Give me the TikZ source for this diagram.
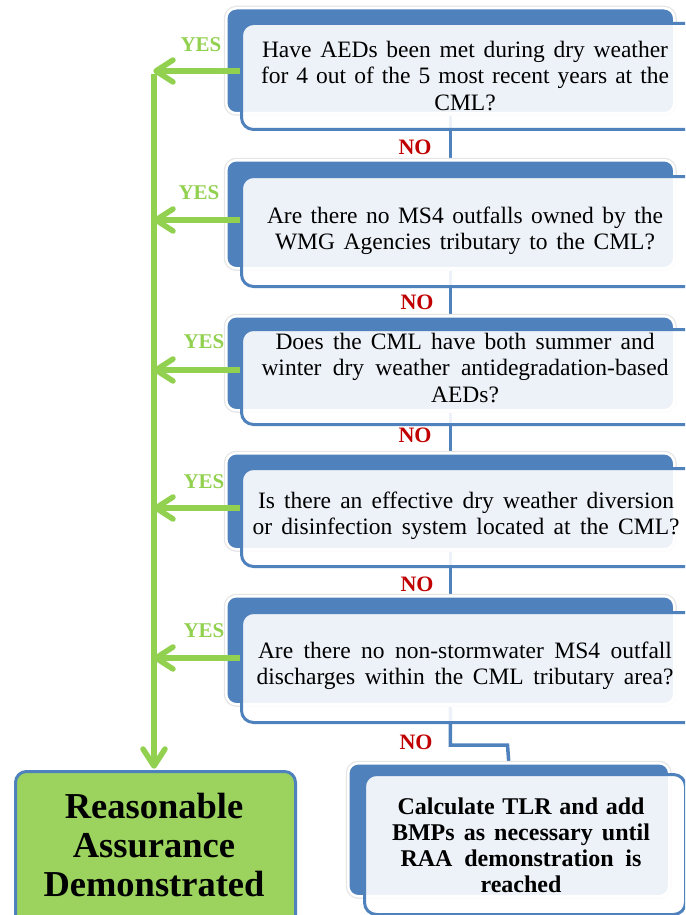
\documentclass[tikz,border=0pt]{standalone}
\usepackage{fontspec}
\setmainfont{Liberation Serif}
\definecolor{boxblue}{HTML}{4F81BD}
\definecolor{yesgreen}{HTML}{92D050}
\definecolor{ragreen}{HTML}{9BD35E}
\definecolor{nored}{HTML}{C00000}
\pgfdeclarelayer{bg}
\pgfsetlayers{bg,main}
% a line stretched to a given width (justified)
\newcommand{\jline}[2]{\makebox[#1pt][s]{#2}}

\begin{document}
\begin{tikzpicture}[x=1pt,y=-1pt,
  backbox/.style={draw=white, line width=2.5pt, fill=boxblue, rounded corners=10pt,
    inner sep=0pt, anchor=north west, preaction={draw=black!10, line width=5pt}},
  frontbox/.style={draw=boxblue, line width=3pt, fill=white, fill opacity=0.9,
    rounded corners=12pt, inner sep=0pt, anchor=north west},
  qtext/.style={font=\fontsize{23.5pt}{26.5pt}\selectfont, align=center, inner sep=0pt, text=black},
  ftext/.style={font=\fontsize{24pt}{26pt}\selectfont\bfseries, align=center, inner sep=0pt},
  rabox/.style={draw=boxblue, line width=3pt, fill=ragreen, rounded corners=11pt,
    inner sep=0pt, anchor=north west},
  ratext/.style={font=\fontsize{36.5pt}{39pt}\selectfont\bfseries, align=center, inner sep=0pt},
  yeslabel/.style={font=\fontsize{21pt}{24pt}\selectfont\bfseries, text=yesgreen, inner sep=0pt},
  nolabel/.style={font=\fontsize{22pt}{24pt}\selectfont\bfseries, text=nored, inner sep=0pt},
  yesline/.style={draw=yesgreen, line width=5.5pt},
  chevron/.style={draw=yesgreen, line width=5.5pt, line cap=round, line join=round},
  noline/.style={draw=boxblue, line width=3.5pt}
]
\useasboundingbox (0,0) rectangle (685,915);
\clip (0,0) rectangle (685,915);

% question 1
\node[backbox, minimum width=448pt, minimum height=105pt] (bk1) at (225,7) {};
\node[frontbox, minimum width=470pt, minimum height=106pt] (q1) at (240,22) {};
\node[qtext] (t1) at (465,76) {\jline{406}{Have AEDs been met during dry weather}\\
  \jline{408}{for 4 out of the 5 most recent years at the}\\ CML?};

% question 2
\node[backbox, minimum width=448pt, minimum height=108pt] (bk2) at (225,159) {};
\node[frontbox, minimum width=470pt, minimum height=110pt] (q2) at (240,175) {};
\node[qtext] (t2) at (465,231) {\jline{396}{Are there no MS4 outfalls owned by the}\\
  \jline{380}{WMG Agencies tributary to the CML?}};

% question 3
\node[backbox, minimum width=448pt, minimum height=94pt] (bk3) at (225,315) {};
\node[frontbox, minimum width=470pt, minimum height=95pt] (q3) at (240,328) {};
\node[qtext] (t3) at (465,368) {\jline{379}{Does the CML have both summer and}\\
  \jline{407}{winter dry weather antidegradation-based}\\ AEDs?};

% question 4
\node[backbox, minimum width=448pt, minimum height=96pt] (bk4) at (225,452) {};
\node[frontbox, minimum width=470pt, minimum height=98pt] (q4) at (240,467) {};
\node[qtext] (t4) at (466,516) {\jline{416}{Is there an effective dry weather diversion}\\
  \jline{427}{or disinfection system located at the CML?}};

% question 5
\node[backbox, minimum width=448pt, minimum height=108pt] (bk5) at (225,595) {};
\node[frontbox, minimum width=470pt, minimum height=110pt] (q5) at (240,611) {};
\node[qtext] (t5) at (465,666) {\jline{414}{Are there no non-stormwater MS4 outfall}\\
  \jline{417}{discharges within the CML tributary area?}};

% final action box
\node[backbox, minimum width=321pt, minimum height=133pt] (bkF) at (347,762) {};
\node[frontbox, minimum width=321pt, minimum height=140pt] (fin) at (363,773) {};
\node[ftext] (tF) at (521,845) {\jline{247}{Calculate TLR and add}\\
  \jline{258}{BMPs as necessary until}\\ \jline{241}{RAA demonstration  is}\\ reached};

% outcome box
\node[rabox, minimum width=280pt, minimum height=160pt] (ra) at (14,770) {};
\node[ratext] (tR) at (154,845) {Reasonable\\Assurance\\Demonstrated};

% NO connectors, behind the boxes
\coordinate (e2) at (507.5,745);
\begin{pgfonlayer}{bg}
  \draw[noline] (bk1.south) -- (bk2.north);
  \draw[noline] (bk2.south) -- (bk3.north);
  \draw[noline] (bk3.south) -- (bk4.north);
  \draw[noline] (bk4.south) -- (bk5.north);
  \draw[noline] (bk5.south) |- (e2) -- (bkF.north);
\end{pgfonlayer}

% NO labels
\node[nolabel] (n1) at (415,147) {NO};
\node[nolabel] (n2) at (417,302) {NO};
\node[nolabel] (n3) at (415,435) {NO};
\node[nolabel] (n4) at (417,584) {NO};
\node[nolabel] (n5) at (416,742) {NO};

% YES branches: shafts, then open chevron heads
\coordinate (y1) at (156,71);
\coordinate (y2) at (156,220);
\coordinate (y3) at (156,370);
\coordinate (y4) at (156,508);
\coordinate (y5) at (156,658);
\coordinate (dn) at (154,766);
\draw[yesline] (q1.west |- y1) -- (y1);
\draw[yesline] (q2.west |- y2) -- (y2);
\draw[yesline] (q3.west |- y3) -- (y3);
\draw[yesline] (q4.west |- y4) -- (y4);
\draw[yesline] (q5.west |- y5) -- (y5);
\draw[yesline] ([yshift=-2.75pt]y1 -| dn) -- (dn);
\foreach \p in {y1,y2,y3,y4,y5}
  \draw[chevron] ([shift={(17,-11)}]\p) -- (\p) -- ([shift={(17,11)}]\p);
\draw[chevron] ([shift={(-11,-17)}]dn) -- (dn) -- ([shift={(11,-17)}]dn);

\node[yeslabel] (l1) at (201,45) {YES};
\node[yeslabel] (l2) at (199,193) {YES};
\node[yeslabel] (l3) at (204,342) {YES};
\node[yeslabel] (l4) at (204,482) {YES};
\node[yeslabel] (l5) at (204,631) {YES};
\end{tikzpicture}
\end{document}
